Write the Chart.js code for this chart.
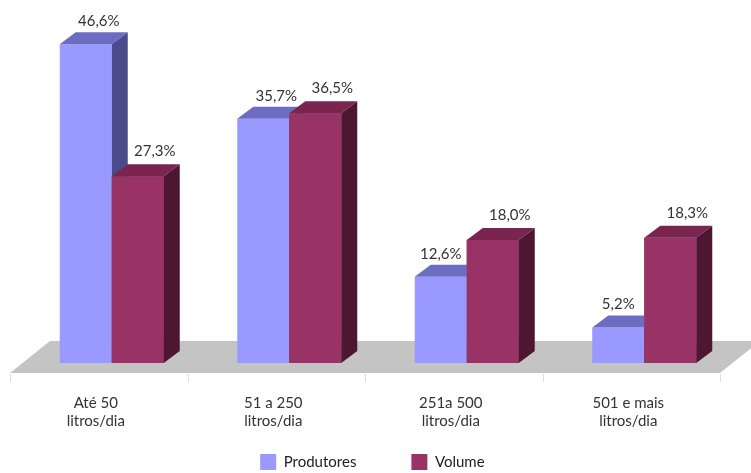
<!DOCTYPE html>
<html>
<head>
<meta charset="utf-8">
<script src="https://cdn.jsdelivr.net/npm/chart.js@4.4.1/dist/chart.umd.min.js"></script>
<style>
  html, body { margin: 0; padding: 0; background: #ffffff; }
  #wrap { width: 751px; height: 473px; }
</style>
</head>
<body>
<div id="wrap"><canvas id="chart" width="751" height="473"></canvas></div>
<script>
// Categories (daily milk volume per producer) and the two series, in percent
const categories = [
  ['Até 50', 'litros/dia'],
  ['51 a 250', 'litros/dia'],
  ['251a 500', 'litros/dia'],
  ['501 e mais', 'litros/dia']
];
const seriesNames = ['Produtores', 'Volume'];
const produtores = [46.6, 35.7, 12.6, 5.2];
const volume = [27.3, 36.5, 18.0, 18.3];

const FONT = 'Lato, "Open Sans", "DejaVu Sans", sans-serif';

// Face colours for the pseudo-3D columns: front, top, side
const FACES = [
  { front: '#9999FF', top: '#6C6CC2', side: '#4B4B8C' },
  { front: '#993366', top: '#7A2450', side: '#4D1733' }
];
const BAR_DEPTH = { dx: 16, dy: 12 };      // depth of each column
const FLOOR_FRONT = { dx: -13, dy: 10 };   // floor front edge relative to column fronts
const FLOOR_DEPTH = { dx: 40, dy: 32 };    // depth of the floor slab

const fmt = v => v.toFixed(1).replace('.', ',') + '%';

function drawFaces(ctx, p, c) {
  const l = p.x - p.width / 2, r = p.x + p.width / 2;
  const { dx, dy } = BAR_DEPTH;
  // top face
  ctx.fillStyle = c.top;
  ctx.beginPath();
  ctx.moveTo(l, p.y);
  ctx.lineTo(r, p.y);
  ctx.lineTo(r + dx, p.y - dy);
  ctx.lineTo(l + dx, p.y - dy);
  ctx.closePath();
  ctx.fill();
  // side face
  ctx.fillStyle = c.side;
  ctx.beginPath();
  ctx.moveTo(r, p.y);
  ctx.lineTo(r + dx, p.y - dy);
  ctx.lineTo(r + dx, p.base - dy);
  ctx.lineTo(r, p.base);
  ctx.closePath();
  ctx.fill();
}

const bar3d = {
  id: 'bar3d',
  beforeDatasetsDraw(chart) {
    const { ctx, chartArea: a, scales: { x, y } } = chart;
    const base = y.getPixelForValue(0);
    const fy = base + FLOOR_FRONT.dy;
    const fl = a.left + FLOOR_FRONT.dx, fr = a.right + FLOOR_FRONT.dx;
    ctx.save();
    ctx.fillStyle = '#C4C4C4';
    ctx.beginPath();
    ctx.moveTo(fl, fy);
    ctx.lineTo(fr, fy);
    ctx.lineTo(fr + FLOOR_DEPTH.dx, fy - FLOOR_DEPTH.dy);
    ctx.lineTo(fl + FLOOR_DEPTH.dx, fy - FLOOR_DEPTH.dy);
    ctx.closePath();
    ctx.fill();
    // category dividers under the floor edge
    ctx.strokeStyle = '#DCDCDC';
    ctx.lineWidth = 1;
    for (let i = 0; i <= categories.length; i++) {
      const px = Math.round(x.getPixelForValue(i - 0.5) + FLOOR_FRONT.dx) + 0.5;
      ctx.beginPath();
      ctx.moveTo(px, fy + 1);
      ctx.lineTo(px, fy + 9);
      ctx.stroke();
    }
    ctx.restore();
  },
  afterDatasetsDraw(chart) {
    const { ctx } = chart;
    const metas = [chart.getDatasetMeta(0), chart.getDatasetMeta(1)];
    ctx.save();
    for (let i = 0; i < categories.length; i++) {
      const p0 = metas[0].data[i].getProps(['x', 'y', 'base', 'width'], true);
      const p1 = metas[1].data[i].getProps(['x', 'y', 'base', 'width'], true);
      drawFaces(ctx, p0, FACES[0]);
      // the right column's front sits in front of the left column's side
      ctx.fillStyle = FACES[1].front;
      ctx.fillRect(p1.x - p1.width / 2, p1.y, p1.width, p1.base - p1.y);
      drawFaces(ctx, p1, FACES[1]);
    }
    // value labels
    ctx.font = '15px ' + FONT;
    ctx.fillStyle = '#333333';
    ctx.textAlign = 'center';
    ctx.textBaseline = 'middle';
    for (let i = 0; i < categories.length; i++) {
      const p0 = metas[0].data[i].getProps(['x', 'y'], true);
      const p1 = metas[1].data[i].getProps(['x', 'y'], true);
      const shift0 = (volume[i] - produtores[i]) > 3 ? 0 : 13;
      ctx.fillText(fmt(produtores[i]), p0.x + shift0, p0.y - 23);
      ctx.fillText(fmt(volume[i]), p1.x + 17, p1.y - 25);
    }
    ctx.restore();
  }
};

new Chart(document.getElementById('chart'), {
  type: 'bar',
  data: {
    labels: categories,
    datasets: [
      { label: seriesNames[0], data: produtores, backgroundColor: FACES[0].front },
      { label: seriesNames[1], data: volume, backgroundColor: FACES[1].front }
    ]
  },
  options: {
    responsive: false,
    animation: false,
    devicePixelRatio: 1,
    layout: { padding: { left: 23, right: 18, top: 21, bottom: -7 } },
    datasets: { bar: { categoryPercentage: 0.586, barPercentage: 1.0, borderWidth: 0 } },
    scales: {
      x: {
        grid: { display: false, drawTicks: false },
        border: { display: false },
        ticks: {
          padding: 31,
          labelOffset: -16,
          autoSkip: false,
          maxRotation: 0,
          color: '#333333',
          font: { family: FONT, size: 15 }
        },
        afterFit(scale) { scale.height = 81; }
      },
      y: { display: false, min: 0, max: 50 }
    },
    plugins: {
      legend: {
        position: 'bottom',
        labels: {
          boxWidth: 16,
          boxHeight: 16,
          padding: 10,
          color: '#222222',
          font: { family: FONT, size: 15 },
          generateLabels(chart) {
            const items = Chart.defaults.plugins.legend.labels.generateLabels(chart);
            items[0].text = items[0].text + '\u2003\u2003\u2003\u2003';
            items[1].text = items[1].text + '\u2003';
            return items;
          }
        }
      },
      tooltip: { enabled: false }
    }
  },
  plugins: [bar3d]
});
</script>
</body>
</html>
